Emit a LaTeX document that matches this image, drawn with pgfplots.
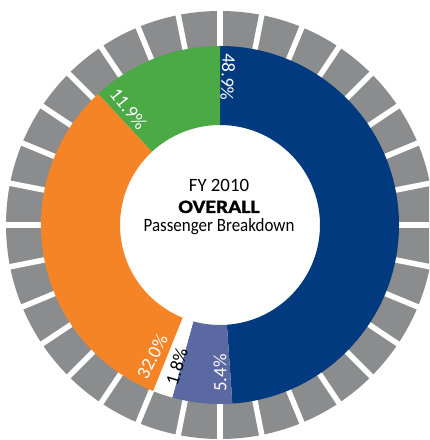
\documentclass[border=0pt]{standalone}
\usepackage{fontspec}
\setmainfont{Carlito}
\newfontfamily\heavyfont[FakeBold=1.2]{Carlito Bold}
\usepackage{pgfplots}
\usepackage{pgfplotstable}
\pgfplotsset{compat=1.18}
\definecolor{cblue}{HTML}{013A7F}
\definecolor{cslate}{HTML}{5B69A3}
\definecolor{corange}{HTML}{F58426}
\definecolor{cgreen}{HTML}{4BA946}
\definecolor{cgray}{HTML}{8B8C8E}

\pgfplotstableread{
share start labang col tcol
48.9 0 3.1 cblue white
5.4 48.9 180 cslate white
1.8 54.3 197 white black
32.0 56.1 207.3 corange white
11.9 88.1 321.8 cgreen white
}\shares

\begin{document}
\begin{tikzpicture}
\begin{axis}[
  scale only axis, width=12cm, height=12.3077cm,
  xmin=0, xmax=429, ymin=0, ymax=440,
  hide axis, clip=true,
]
\pgfplotsextra{
 \begin{scope}[shift={(axis cs:220,215)}]
  \fill[cgray, even odd rule] (0,0) circle[radius=5.986cm] (0,0) circle[radius=4.9cm];
  \foreach \k in {0,...,31}{
    \draw[white, line width=0.154cm] (0,0) -- (\k*11.25:6.3cm);
  }
  \fill[white] (0,0) circle[radius=4.95cm];
  \foreach \i in {0,...,4}{
    \pgfplotstablegetelem{\i}{share}\of\shares \edef\segval{\pgfplotsretval}
    \pgfplotstablegetelem{\i}{start}\of\shares \edef\segstart{\pgfplotsretval}
    \pgfplotstablegetelem{\i}{col}\of\shares \edef\segcol{\pgfplotsretval}
    \pgfmathsetmacro\ma{90-3.6*\segstart}
    \pgfmathsetmacro\mb{90-3.6*(\segstart+\segval)}
    \fill[\segcol] (\ma:5.007cm) arc[start angle=\ma,end angle=\mb,radius=5.007cm]
       -- (\mb:2.797cm) arc[start angle=\mb,end angle=\ma,radius=2.797cm] -- cycle;
  }
  \foreach \i in {0,...,4}{
    \pgfplotstablegetelem{\i}{share}\of\shares \edef\segval{\pgfplotsretval}
    \pgfplotstablegetelem{\i}{labang}\of\shares \edef\seglab{\pgfplotsretval}
    \pgfplotstablegetelem{\i}{tcol}\of\shares \edef\segtcol{\pgfplotsretval}
    \pgfmathsetmacro\mc{90-\seglab}
    \pgfmathsetmacro\rot{270-\seglab}
    \node[rotate=\rot, text=\segtcol, font=\fontsize{15pt}{16pt}\selectfont, inner sep=0pt]
      at (\mc:4.14cm) {\segval\%};
  }
 \end{scope}
 \node[anchor=base, font=\fontsize{15pt}{16pt}\selectfont] at (axis cs:219,248) {FY 2010};
 \node[anchor=base, xscale=1.15, font=\fontsize{15pt}{16pt}\selectfont\heavyfont] at (axis cs:219,227) {OVERALL};
 \node[anchor=base, xscale=0.9, font=\fontsize{15pt}{16pt}\selectfont] at (axis cs:219,208) {Passenger Breakdown};
}
\end{axis}
\pgfresetboundingbox
\path (current axis.south west) rectangle (current axis.north east);
\end{tikzpicture}
\end{document}
